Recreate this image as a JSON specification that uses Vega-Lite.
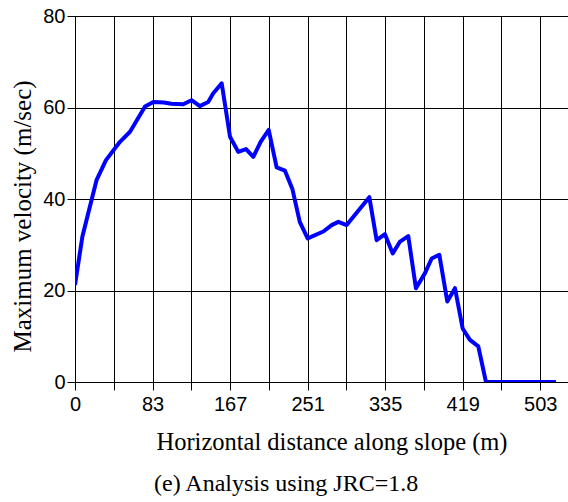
{
  "$schema": "https://vega.github.io/schema/vega-lite/v6.json",
  "autosize": "none",
  "width": 493,
  "height": 366,
  "padding": {"left": 75, "top": 16, "right": 0, "bottom": 120},
  "background": "white",
  "config": {"view": {"stroke": null}},
  "title": {
    "text": "(e) Analysis using JRC=1.8",
    "orient": "bottom",
    "anchor": "start",
    "frame": "group",
    "dx": 79,
    "offset": 18,
    "font": "Liberation Serif",
    "fontSize": 24,
    "fontWeight": "normal",
    "color": "black"
  },
  "data": {
    "values": [
      {"x": 0, "v": 21.2},
      {"x": 8, "v": 31.8},
      {"x": 23.4, "v": 44.2},
      {"x": 33.5, "v": 48.5},
      {"x": 48.6, "v": 52.5},
      {"x": 59.5, "v": 54.7},
      {"x": 75.7, "v": 60.2},
      {"x": 84.7, "v": 61.2},
      {"x": 96, "v": 61.1},
      {"x": 104, "v": 60.8},
      {"x": 117, "v": 60.7},
      {"x": 126, "v": 61.6},
      {"x": 135, "v": 60.3},
      {"x": 144, "v": 61.2},
      {"x": 149.5, "v": 63.1},
      {"x": 158.6, "v": 65.3},
      {"x": 167.6, "v": 53.6},
      {"x": 176.5, "v": 50.3},
      {"x": 184.9, "v": 50.9},
      {"x": 192.8, "v": 49.2},
      {"x": 200.7, "v": 52.5},
      {"x": 209.4, "v": 55.1},
      {"x": 218, "v": 46.9},
      {"x": 227, "v": 46.2},
      {"x": 235, "v": 42.2},
      {"x": 243, "v": 35.0},
      {"x": 251.5, "v": 31.4},
      {"x": 268.5, "v": 32.9},
      {"x": 277.5, "v": 34.3},
      {"x": 284.7, "v": 35.0},
      {"x": 293.7, "v": 34.3},
      {"x": 318.2, "v": 40.4},
      {"x": 326.1, "v": 31.0},
      {"x": 335.1, "v": 32.3},
      {"x": 343.5, "v": 28.1},
      {"x": 351.4, "v": 30.7},
      {"x": 360.3, "v": 31.9},
      {"x": 368.6, "v": 20.5},
      {"x": 378.4, "v": 23.8},
      {"x": 385.6, "v": 27.0},
      {"x": 393.9, "v": 27.8},
      {"x": 402.5, "v": 17.6},
      {"x": 410.8, "v": 20.5},
      {"x": 419.1, "v": 11.7},
      {"x": 427, "v": 9.2},
      {"x": 436, "v": 7.8},
      {"x": 444.3, "v": 0},
      {"x": 520, "v": 0}
    ]
  },
  "mark": {"type": "line", "color": "#0000ff", "strokeWidth": 4, "strokeJoin": "round", "clip": true},
  "encoding": {
    "x": {
      "field": "x",
      "type": "quantitative",
      "scale": {"domain": [0, 533], "nice": false, "zero": false},
      "axis": {
        "title": "Horizontal distance along slope (m)",
        "values": [0, 41.9166667, 83.8333333, 125.75, 167.6666667, 209.5833333, 251.5, 293.4166667, 335.3333333, 377.25, 419.1666667, 461.0833333, 503],
        "labelExpr": "round(datum.value / 41.9166667) % 2 == 0 ? floor(datum.value + 0.000001) : ''",
        "grid": true,
        "gridColor": "#000000",
        "gridOpacity": 1,
        "gridWidth": 1,
        "domainColor": "#000000",
        "domainWidth": 1,
        "tickColor": "#000000",
        "tickSize": 8,
        "tickWidth": 1,
        "labelFont": "Liberation Sans",
        "labelFontSize": 20,
        "labelColor": "#000000",
        "labelPadding": 4,
        "labelDx": 3,
        "labelFlush": false,
        "labelOverlap": false,
        "titleFont": "Liberation Serif",
        "titleFontSize": 24.5,
        "titleFontWeight": "normal",
        "titleColor": "#000000",
        "titleAlign": "center",
        "titleBaseline": "alphabetic",
        "titleX": 256.5,
        "titleY": 67
      }
    },
    "y": {
      "field": "v",
      "type": "quantitative",
      "scale": {"domain": [0, 80], "nice": false},
      "axis": {
        "title": "Maximum velocity (m/sec)",
        "values": [0, 20, 40, 60, 80],
        "grid": true,
        "gridColor": "#000000",
        "gridOpacity": 1,
        "gridWidth": 1,
        "domainColor": "#000000",
        "domainWidth": 1,
        "tickColor": "#000000",
        "tickSize": 8,
        "tickWidth": 1,
        "labelFont": "Liberation Sans",
        "labelFontSize": 20,
        "labelColor": "#000000",
        "labelPadding": 2,
        "labelFlush": false,
        "titleFont": "Liberation Serif",
        "titleFontSize": 25,
        "titleFontWeight": "normal",
        "titleColor": "#000000",
        "titleAngle": -90,
        "titleAlign": "center",
        "titleBaseline": "middle",
        "titleX": -52.5,
        "titleY": 200
      }
    }
  }
}
